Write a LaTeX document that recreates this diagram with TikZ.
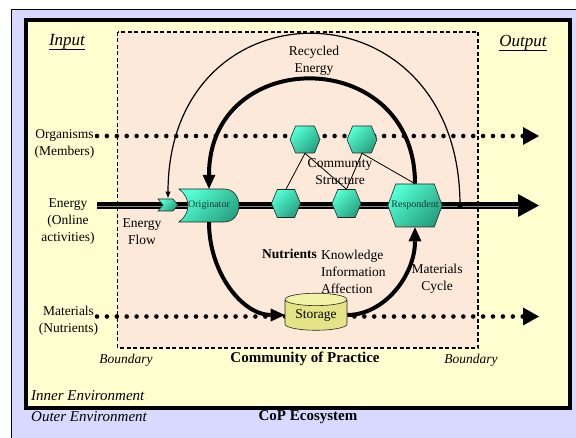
\documentclass[tikz,border=0pt]{standalone}
\usepackage{fontspec}
\setmainfont{Liberation Serif}
\usetikzlibrary{arrows.meta,shapes.geometric,shapes.symbols}
\definecolor{outerbg}{RGB}{217,217,255}
\definecolor{innerbg}{RGB}{255,255,208}
\definecolor{copbg}{RGB}{253,233,217}
\definecolor{tealhi}{RGB}{85,255,212}
\definecolor{teallo}{RGB}{38,160,128}
\definecolor{tealtxt}{RGB}{20,60,50}
\definecolor{storebody}{RGB}{228,228,135}
\definecolor{storeend}{RGB}{243,243,168}
\tikzset{
  lbl/.style={font=\fontsize{13.5}{17}\selectfont,align=center,inner sep=0pt},
  lblb/.style={font=\fontsize{13.5}{17}\selectfont\bfseries,inner sep=0pt},
  lbli/.style={font=\fontsize{13.5}{17}\selectfont\itshape,inner sep=0pt},
  envi/.style={font=\fontsize{15}{18}\selectfont\itshape,inner sep=0pt,anchor=west},
  envb/.style={font=\fontsize{15}{18}\selectfont\bfseries,inner sep=0pt},
  head/.style={font=\fontsize{17}{20}\selectfont\itshape,inner sep=0pt},
  headline/.style={line width=0.9pt},
  nodetxt/.style={font=\fontsize{10}{12}\selectfont,text=tealtxt,inner sep=0pt},
  tealshape/.style={draw=black!85,line width=0.6pt,top color=tealhi,bottom color=teallo,shading angle=45},
  hexa/.style={tealshape,signal,signal to=east and west,signal pointer angle=135,
    inner sep=0pt,minimum width=29pt,minimum height=28pt},
  dotline/.style={line width=4.6pt,line cap=round,dash pattern=on 0pt off 9.9pt,
    -{Triangle[length=16pt,width=18pt,line width=0pt]}},
  energyline/.style={line width=7pt,-{Triangle[length=21pt,width=23pt,line width=0pt]},
    postaction={draw,-,black!45,line width=3.6pt,shorten >=20pt},
    postaction={draw,-,black,line width=2pt,shorten >=20pt}},
  cyc/.style={line width=4pt,-{Triangle[length=14pt,width=13pt,line width=0pt]}},
  link/.style={line width=0.8pt},
  recycle/.style={line width=1.2pt,-{Latex[length=7pt,width=5.5pt]}}
}

\begin{document}
\begin{tikzpicture}[x=1pt,y=-1pt]
  \useasboundingbox (0,0) rectangle (576,438);
  % environments and the boundary of the community
  \fill[outerbg] (11.5,9.5) rectangle (576,438);
  \draw[line width=0.8pt] (11.5,438) -- (11.5,9.5) -- (576,9.5);
  \draw[line width=4pt,fill=innerbg] (26,20) rectangle (570,408);
  \draw[line width=1.3pt,dash pattern=on 4pt off 2.5pt,fill=copbg] (117.5,32) rectangle (478,348);

  % labels
  \node[head] (input) at (67,42) {Input};
  \node[head] (output) at (523,43) {Output};
  \draw[headline] (input.south west) -- (input.south east);
  \draw[headline] (output.south west) -- (output.south east);
  \node[lbl] (organisms) at (64.5,143.5) {Organisms\\(Members)};
  \node[lbl] (energy) at (68,222) {Energy\\(Online\\activities)};
  \node[lbl] (materials) at (68.5,321) {Materials\\(Nutrients)};
  \node[lbl] (recycled) at (314,61) {Recycled\\Energy};
  \node[lbl] (flow) at (142,231.5) {Energy\\Flow};
  \node[lbl] (structure) at (340,171.5) {Community\\Structure};
  \node[lblb] (nutrients) at (289.5,254) {Nutrients};
  \node[lbl,align=left,anchor=west] (kia) at (321,272) {Knowledge\\Information\\Affection};
  \node[lbl] (matcycle) at (437,278.5) {Materials\\Cycle};
  \node[lbli] (bndleft) at (126,360) {Boundary};
  \node[lbli] (bndright) at (471,360) {Boundary};
  \node[envb] (cop) at (305,359) {Community of Practice};
  \node[envi] (inner) at (31,396) {Inner Environment};
  \node[envi] (outer) at (31,417) {Outer Environment};
  \node[envb] (ecosys) at (308,417) {CoP Ecosystem};

  % flows through the community
  \coordinate (orgin) at (97,136);
  \coordinate (orgout) at (539,136);
  \coordinate (enin) at (97,205.5);
  \coordinate (enout) at (539,205.5);
  \coordinate (matin) at (97,316.5);
  \coordinate (matout) at (539,316.5);
  \coordinate (recyc) at (460,205.5);
  \draw[dotline] (orgin) -- (orgout);
  \draw[dotline] (matin) -- (matout);
  \draw[energyline] (enin) -- (enout);

  % members
  \node[tealshape,signal,signal from=west,signal to=east,signal pointer angle=100,
    minimum width=20pt,minimum height=12pt,inner sep=0pt] (inlet) at (168,205) {};
  \path[tealshape] (179,189) -- (224,189) .. controls (244,189) and (244,222) .. (224,222)
    -- (179,222) .. controls (191,213) and (191,198) .. (179,189) -- cycle;
  \node[nodetxt,minimum width=61pt,minimum height=33pt] (orig) at (209,205.5) {Originator};
  \node[hexa] (hexone) at (286,203.5) {};
  \node[hexa] (hextwo) at (346.5,203.5) {};
  \node[hexa,minimum width=30pt,minimum height=27pt] (hexthree) at (305,139.5) {};
  \node[hexa,minimum width=30pt,minimum height=27pt] (hexfour) at (362,139.5) {};
  \node[hexa,nodetxt,signal pointer angle=140,inner xsep=-4.3pt,
    minimum width=54pt,minimum height=43pt] (resp) at (415,205.5) {Respondent};
  \node[cylinder,shape border rotate=90,draw=black!85,line width=0.6pt,
    cylinder uses custom fill,cylinder body fill=storebody,cylinder end fill=storeend,
    aspect=0.3,minimum width=62pt,minimum height=37pt,lbl] (store) at (316,315) {Storage};

  % community structure
  \draw[link] (hexthree.south) -- (hexone.north);
  \draw[link] (hexthree.south) -- (hextwo.north);
  \draw[link] (hexfour.south) -- (hextwo.north);
  \draw[link] (hexfour.south) -- (resp.north);

  % cycles
  \draw[cyc] (resp.north) .. controls +(0,-139) and +(0,-144) .. (orig.north);
  \draw[cyc] (orig.south) .. controls +(0,51) and +(-42,0) .. (store.180);
  \draw[cyc] (store.0) .. controls +(37,0) and +(0,48) .. (resp.south);
  \draw[recycle] (recyc) .. controls +(0,-227) and +(0,-221) .. (inlet.north);
  \fill (recyc) circle (2.8);
\end{tikzpicture}
\end{document}
